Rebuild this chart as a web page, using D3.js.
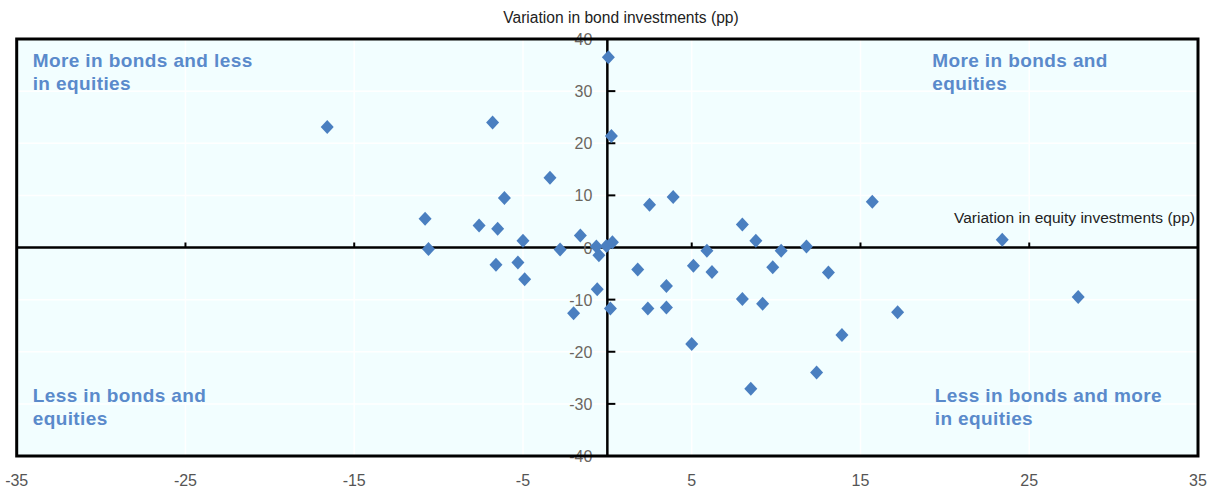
<!DOCTYPE html>
<html>
<head>
<meta charset="utf-8">
<script src="https://cdn.jsdelivr.net/npm/d3@7"></script>
<style>
	body { margin: 0; background: #fff; }
	svg { display: block; font-family: 'Liberation Sans', Arial, sans-serif; }
</style>
</head>
<body>
<svg id="chart" width="1212" height="488"></svg>
<script>
// change in equity allocation (x) and bond allocation (y), percentage points
const equityVar = [-16.6, -6.8, 0.06, 0.24, -3.4, -6.1, -10.8, -7.6, -6.5, -5.0,
	-10.6, -2.8, -1.6, -0.65, -0.5, -0.05, 0.3, -6.6, -5.3, -4.9,
	-0.6, -2.0, 0.18, 2.5, 3.9, 1.8, 3.5, 2.4, 3.5, 5.1,
	6.2, 5.9, 8.0, 8.8, 10.3, 9.8, 11.8, 13.1, 8.0, 9.2,
	5.0, 8.5, 12.4, 13.9, 15.7, 17.2, 23.4, 27.9];
const bondVar = [23.1, 24.0, 36.5, 21.4, 13.4, 9.5, 5.5, 4.2, 3.6, 1.3,
	-0.3, -0.4, 2.3, 0.2, -1.5, 0.3, 1.0, -3.3, -2.9, -6.1,
	-8.0, -12.6, -11.7, 8.2, 9.7, -4.2, -7.4, -11.7, -11.5, -3.5,
	-4.7, -0.6, 4.4, 1.3, -0.6, -3.8, 0.2, -4.8, -9.9, -10.8,
	-18.5, -27.1, -24.0, -16.8, 8.8, -12.4, 1.5, -9.5];
const xTicks = [-35, -25, -15, -5, 5, 15, 25, 35];
const yTicks = [-40, -30, -20, -10, 0, 10, 20, 30, 40];
const quadrants = [
	{ lines: ["More in bonds and less", "in equities"], x: -35, y: 40, side: "top" },
	{ lines: ["More in bonds and", "equities"], x: 18.3, y: 40, side: "top" },
	{ lines: ["Less in bonds and", "equities"], x: -35, y: -40, side: "bottom" },
	{ lines: ["Less in bonds and more", "in equities"], x: 18.45, y: -40, side: "bottom" }
];

const plot = { left: 16.7, right: 1198, top: 39, bottom: 456 };
const quadColor = "#5a8acb";
const dotColor = "#4a7fc0";
const tickColor = "#6b6660";

const svg = d3.select("#chart");

const x = d3.scaleLinear().domain([-35, 35]).range([plot.left, plot.right]);
const y = d3.scaleLinear().domain([-40, 40]).range([plot.bottom, plot.top]);

// background
svg.append("rect")
	.attr("x", plot.left)
	.attr("y", plot.top)
	.attr("width", plot.right - plot.left)
	.attr("height", plot.bottom - plot.top)
	.attr("fill", "#f2feff");

// white grid lines
let grid = svg.append("g").attr("class", "grid");
grid.selectAll("line.gx")
	.data(xTicks.slice(1, -1))
	.join("line")
	.attr("x1", d => x(d)).attr("x2", d => x(d))
	.attr("y1", plot.top).attr("y2", plot.bottom)
	.attr("stroke", "#ffffff").attr("stroke-width", 1.5);
grid.selectAll("line.gy")
	.data(yTicks.filter(d => d != 0 && Math.abs(d) != 40))
	.join("line")
	.attr("x1", plot.left).attr("x2", plot.right)
	.attr("y1", d => y(d)).attr("y2", d => y(d))
	.attr("stroke", "#ffffff").attr("stroke-width", 1.5);

// quadrant captions
quadrants.forEach(q => {
	let base = q.side == "top" ? y(q.y) + 28 : y(q.y) - 54;
	let t = svg.append("text")
		.attr("x", x(q.x) + 16)
		.attr("y", base)
		.attr("fill", quadColor)
		.attr("font-size", "19px")
		.attr("font-weight", "bold")
		.attr("letter-spacing", "0.4px");
	q.lines.forEach((l, i) => {
		t.append("tspan")
			.attr("x", x(q.x) + 16)
			.attr("dy", i == 0 ? 0 : 23)
			.text(l);
	});
});

// central axes
let axes = svg.append("g").attr("class", "axes");
axes.append("line")
	.attr("x1", plot.left).attr("x2", plot.right)
	.attr("y1", y(0)).attr("y2", y(0))
	.attr("stroke", "#000").attr("stroke-width", 2.5);
axes.append("line")
	.attr("x1", x(0)).attr("x2", x(0))
	.attr("y1", plot.top).attr("y2", plot.bottom)
	.attr("stroke", "#000").attr("stroke-width", 2.5);

// tick marks on the zero lines
axes.selectAll("line.tx")
	.data(xTicks.slice(1, -1))
	.join("line")
	.attr("x1", d => x(d)).attr("x2", d => x(d))
	.attr("y1", y(0)).attr("y2", y(0) - 5)
	.attr("stroke", "#000").attr("stroke-width", 2);
axes.selectAll("line.ty")
	.data(yTicks.filter(d => d != 0 && Math.abs(d) != 40))
	.join("line")
	.attr("x1", x(0)).attr("x2", x(0) + 8)
	.attr("y1", d => y(d)).attr("y2", d => y(d))
	.attr("stroke", "#000").attr("stroke-width", 2);

// y tick labels next to the vertical axis
svg.append("g")
	.selectAll("text")
	.data(yTicks)
	.join("text")
	.attr("x", x(0) - 15)
	.attr("y", d => y(d) + 6)
	.attr("text-anchor", "end")
	.attr("font-size", "16px")
	.attr("fill", tickColor)
	.text(d => d);

// x tick labels below the frame
svg.append("g")
	.selectAll("text")
	.data(xTicks)
	.join("text")
	.attr("x", d => x(d))
	.attr("y", 486)
	.attr("text-anchor", "middle")
	.attr("font-size", "16px")
	.attr("fill", "#555")
	.text(d => d);

// axis titles
svg.append("text")
	.attr("x", 621)
	.attr("y", 23)
	.attr("text-anchor", "middle")
	.attr("font-size", "15.6px")
	.attr("fill", "#222")
	.text("Variation in bond investments (pp)");
svg.append("text")
	.attr("x", 1195)
	.attr("y", 223)
	.attr("text-anchor", "end")
	.attr("font-size", "15.5px")
	.attr("fill", "#222")
	.text("Variation in equity investments (pp)");

// diamond markers
const points = equityVar.map((d, i) => ({ ex: d, bo: bondVar[i] }));
svg.append("g")
	.selectAll("path")
	.data(points)
	.join("path")
	.attr("transform", d => `translate(${x(d.ex)}, ${y(d.bo)})`)
	.attr("d", "M0,-7L6.5,0L0,7L-6.5,0Z")
	.attr("fill", dotColor);

// frame
svg.append("rect")
	.attr("x", plot.left)
	.attr("y", plot.top)
	.attr("width", plot.right - plot.left)
	.attr("height", plot.bottom - plot.top)
	.attr("fill", "none")
	.attr("stroke", "#000")
	.attr("stroke-width", 3);
</script>
</body>
</html>
